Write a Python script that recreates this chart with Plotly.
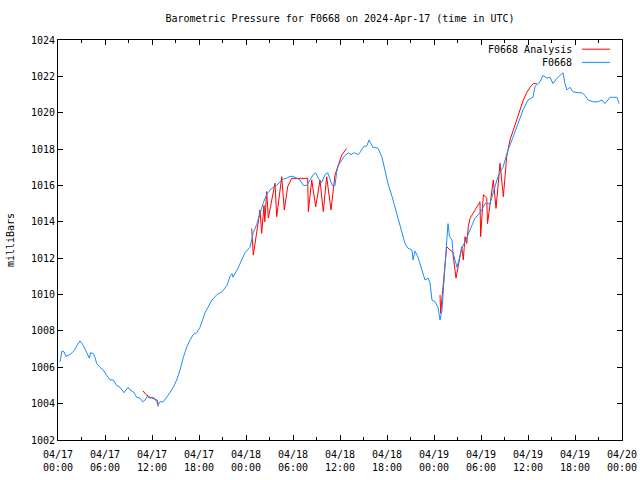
import pandas as pd
import plotly.graph_objects as go

START = pd.Timestamp("2024-04-17 00:00")

station_hours = [0.26,0.51,0.77,1.02,1.53,2.04,2.43,2.81,3.23,3.66,4.0,4.17,4.51,4.72,4.94,5.36,5.78,6.22,6.64,7.06,7.49,7.92,8.13,8.43,8.68,8.97,9.19,9.61,10.05,10.47,10.81,11.11,11.4,11.74,12.09,12.38,12.68,12.8,13.02,13.44,13.88,14.3,14.72,15.15,15.58,16.0,16.43,16.85,17.27,17.71,18.13,18.77,19.66,20.30,20.94,21.57,21.96,22.21,22.34,22.98,23.62,23.87,24.51,24.73,24.93,25.37,25.79,26.21,26.64,27.06,27.49,27.92,28.34,28.76,29.20,29.62,30.04,30.47,30.89,31.32,31.75,32.17,32.59,32.90,33.23,33.66,34.09,34.43,34.72,35.02,35.36,35.58,35.78,36.22,36.64,37.06,37.40,37.83,38.30,38.55,38.94,39.45,39.70,40.21,40.85,41.36,41.74,42.13,42.64,43.02,43.40,43.91,44.30,44.68,45.19,45.32,45.57,45.96,46.47,46.85,47.23,47.49,47.74,48.13,48.51,48.77,49.02,49.15,49.40,49.66,49.79,49.98,50.30,50.43,50.68,50.94,51.19,51.57,51.96,52.60,53.23,53.87,54.51,55.15,55.53,56.17,56.81,57.45,58.09,58.72,59.36,60.0,60.64,60.89,61.53,61.91,62.43,62.81,63.19,63.70,64.09,64.47,64.72,64.98,65.36,65.74,66.38,66.89,67.28,67.66,68.30,68.94,69.45,69.83,70.47,71.36,71.62]
station_mb = [1006.3,1006.9,1006.85,1006.6,1006.7,1006.9,1007.2,1007.45,1007.2,1006.85,1006.5,1006.8,1006.75,1006.55,1006.2,1006.0,1005.85,1005.55,1005.3,1005.3,1005.0,1004.9,1004.75,1004.6,1004.75,1004.9,1004.75,1004.65,1004.35,1004.3,1004.1,1004.2,1004.4,1004.3,1004.35,1004.25,1004.2,1003.95,1004.1,1004.1,1004.35,1004.65,1004.9,1005.3,1005.85,1006.55,1007.1,1007.5,1007.8,1007.9,1008.2,1009.0,1009.7,1010.0,1010.15,1010.5,1011.0,1011.15,1010.95,1011.45,1012.05,1012.3,1012.6,1013.1,1013.4,1013.85,1014.5,1015.05,1015.5,1015.75,1015.9,1016.0,1016.2,1016.35,1016.4,1016.5,1016.5,1016.4,1016.3,1016.0,1016.0,1016.3,1016.6,1016.7,1016.4,1016.15,1016.6,1016.7,1016.4,1016.0,1016.0,1016.75,1017.1,1017.4,1017.65,1017.8,1017.7,1017.8,1017.7,1017.8,1018.1,1018.2,1018.5,1018.1,1018.05,1017.55,1016.85,1016.1,1015.4,1014.8,1014.25,1013.55,1012.8,1012.55,1012.45,1011.9,1012.4,1012.05,1011.35,1010.8,1010.9,1010.65,1009.7,1009.6,1009.3,1008.6,1009.15,1010.1,1011.75,1013.15,1013.9,1013.2,1013.0,1012.3,1011.9,1011.5,1011.9,1012.6,1012.9,1013.55,1014.2,1014.5,1015.0,1015.0,1015.6,1016.5,1017.0,1017.95,1018.65,1019.4,1020.15,1020.7,1020.85,1021.45,1021.7,1022.05,1021.9,1021.95,1021.6,1021.9,1022.05,1022.2,1021.6,1021.25,1021.4,1021.15,1021.1,1021.1,1020.95,1020.7,1020.6,1020.6,1020.7,1020.5,1020.85,1020.85,1020.5]

analysis_hours = [10.85,11.23,11.74,12.38,12.64,12.70,12.80,None,
                  24.73,24.93,25.79,26.00,26.30,26.40,26.64,26.85,27.70,27.92,28.56,28.89,29.32,29.83,31.87,31.96,32.39,32.90,33.45,33.87,34.30,34.85,35.36,35.70,36.22,36.85,None,
                  48.77,48.85,49.19,49.40,49.62,50.04,50.39,50.81,51.32,51.54,51.74,51.96,52.18,52.38,52.60,53.02,53.45,53.87,53.96,54.30,54.73,54.83,55.57,55.92,56.43,56.85,57.28,57.70,58.13,58.55,58.98,59.40,59.83,60.26,60.68,61.11]
analysis_mb = [1004.7,1004.5,1004.35,1004.25,1004.1,1003.9,1003.85,None,
               1013.64,1012.17,1014.65,1013.37,1014.9,1014.0,1015.66,1014.2,1016.12,1014.28,1016.48,1014.65,1015.93,1016.39,1016.39,1014.56,1016.3,1014.83,1016.3,1014.56,1016.48,1014.65,1016.57,1017.03,1017.67,1018.04,None,
               1009.97,1008.97,1010.62,1011.53,1012.63,1012.45,1012.36,1010.9,1012.08,1012.63,1011.9,1013.18,1012.81,1013.73,1014.19,1014.47,1014.83,1015.1,1013.18,1015.5,1015.3,1013.9,1016.3,1014.74,1017.22,1015.38,1017.58,1018.5,1019.05,1019.6,1020.15,1020.7,1021.1,1021.4,1021.6,1021.6]

tick_hours = list(range(0, 73, 6))
tick_labels = [f"{(START + pd.Timedelta(hours=h)).strftime('%m/%d')}<br>{(START + pd.Timedelta(hours=h)).strftime('%H:%M')}" for h in tick_hours]
y_ticks = list(range(1002, 1025, 2))

def to_time(hs):
    return [None if h is None else START + pd.Timedelta(hours=h) for h in hs]

FONT = "DejaVu Sans Mono, Liberation Mono, monospace"
RED = "#ff0000"
BLUE = "#1a8cff"

fig = go.Figure()
fig.add_trace(go.Scatter(x=to_time(analysis_hours), y=analysis_mb, mode="lines",
                         line=dict(color=RED, width=1), name="F0668 Analysis",
                         connectgaps=False, showlegend=False))
fig.add_trace(go.Scatter(x=to_time(station_hours), y=station_mb, mode="lines",
                         line=dict(color=BLUE, width=1), name="F0668", showlegend=False))

fig.update_layout(
    width=640, height=480,
    margin=dict(l=58, r=18, t=40, b=40, autoexpand=False),
    paper_bgcolor="white", plot_bgcolor="white",
    font=dict(family=FONT, size=10, color="black"),
    title=dict(text="Barometric Pressure for F0668 on 2024-Apr-17 (time in UTC)",
               x=0.5, xref="paper", xanchor="center",
               y=1 - 18 / 480, yref="container", yanchor="middle",
               font=dict(family=FONT, size=10, color="black")),
)
fig.update_xaxes(
    type="date", automargin=False,
    range=[START, START + pd.Timedelta(hours=72)],
    tickmode="array",
    tickvals=to_time(tick_hours), ticktext=tick_labels,
    ticks="inside", ticklen=5, tickcolor="black",
    ticklabelstandoff=5,
    showline=True, linecolor="black", linewidth=1, mirror="ticks",
    showgrid=False, zeroline=False,
    minor=dict(tickmode="linear", tick0=START, dtick=3 * 3600 * 1000,
               ticks="inside", ticklen=3, tickcolor="black", showgrid=False),
    tickfont=dict(family=FONT, size=10),
)
fig.update_yaxes(
    automargin=False,
    range=[1002, 1024],
    tickmode="array", tickvals=y_ticks, ticktext=[str(v) for v in y_ticks],
    ticks="inside", ticklen=5, tickcolor="black",
    showline=True, linecolor="black", linewidth=1, mirror="ticks",
    showgrid=False, zeroline=False,
    tickfont=dict(family=FONT, size=10),
)

fig.add_annotation(text="milliBars", xref="paper", yref="paper", x=-0.085, y=0.5,
                   textangle=-90, showarrow=False, xanchor="center", yanchor="middle",
                   font=dict(family=FONT, size=10, color="black"))

# legend drawn gnuplot-style (text then line sample)
legend_items = [("F0668 Analysis", RED, 0.977), ("F0668", BLUE, 0.944)]
for label, color, ypos in legend_items:
    fig.add_annotation(text=label, xref="paper", yref="paper", x=0.915, y=ypos,
                       xanchor="right", yanchor="middle", showarrow=False,
                       font=dict(family=FONT, size=10, color="black"))
    fig.add_shape(type="line", xref="paper", yref="paper", x0=0.929, x1=0.979,
                  y0=ypos, y1=ypos, line=dict(color=color, width=1))

fig.write_html("out.html", config={"displayModeBar": False},
               post_script="document.body.style.margin='0px';document.body.style.overflow='hidden';")
